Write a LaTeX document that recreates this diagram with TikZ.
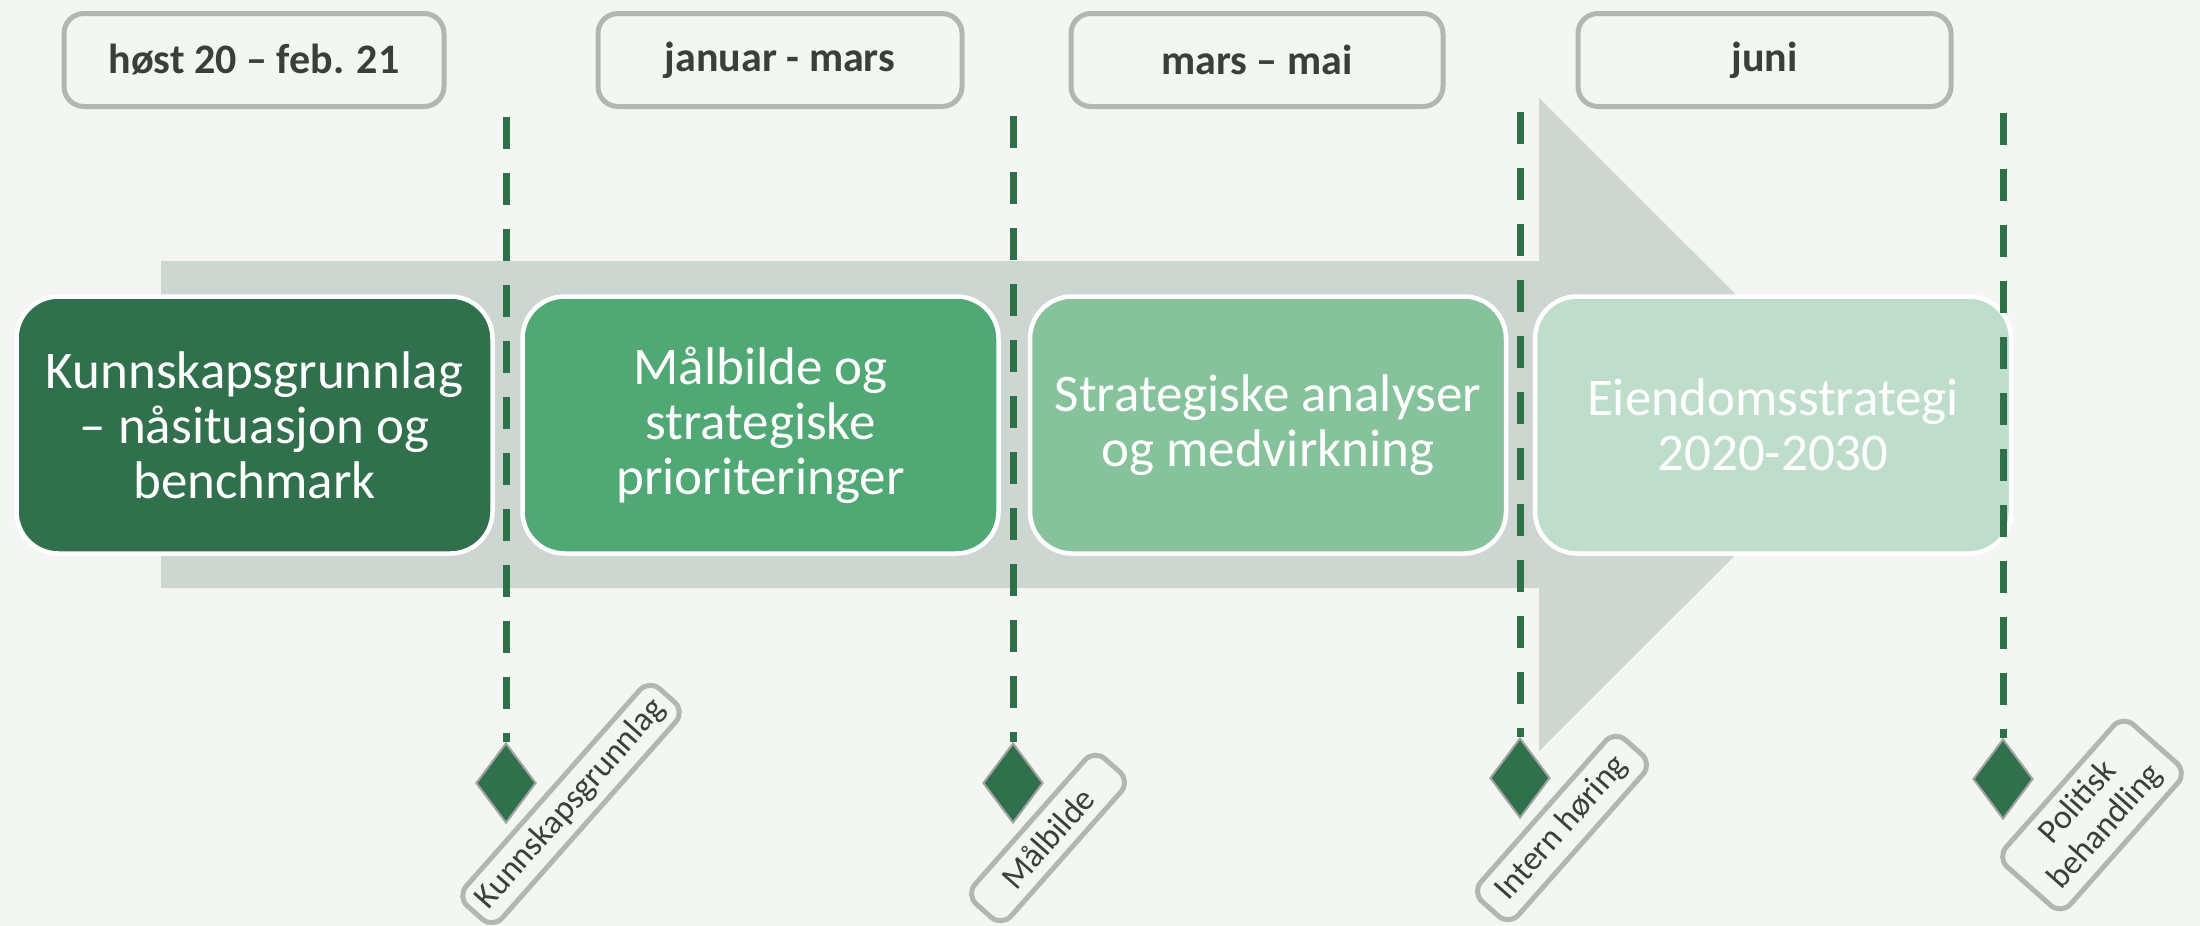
\documentclass[tikz,border=0pt]{standalone}
\usepackage{fontspec}
\setmainfont{Carlito}
\usetikzlibrary{shapes.geometric}
\definecolor{bg}{HTML}{F4F6F3}
\definecolor{arrowgrey}{HTML}{CDD6D1}
\definecolor{gA}{HTML}{31704C}
\definecolor{gB}{HTML}{50A874}
\definecolor{gC}{HTML}{86C39D}
\definecolor{gD}{HTML}{BFDDCB}
\definecolor{dashgreen}{HTML}{2E7048}
\definecolor{boxgrey}{HTML}{B4B6B3}
\definecolor{txtgrey}{HTML}{3C3E3C}
\tikzset{
  periodbox/.style={draw=boxgrey, line width=5pt, fill=bg, rounded corners=20pt,
    minimum height=93pt, inner sep=0pt, text=txtgrey,
    font=\fontsize{42}{46}\selectfont\bfseries},
  phasebox/.style={draw=white, line width=4.5pt, rounded corners=42pt,
    minimum width=476pt, minimum height=257pt, inner sep=0pt, text=white,
    align=center, font=\fontsize{53}{55}\selectfont},
  msline/.style={draw=dashgreen, line width=7pt, dash pattern=on 32pt off 24pt},
  msdiamond/.style={diamond, draw=boxgrey!90!black, line width=2pt, fill=gA,
    minimum width=60pt, minimum height=80pt, inner sep=0pt},
  msbox/.style={draw=boxgrey, line width=5pt, fill=bg, rounded corners=14pt,
    inner sep=0pt, text=txtgrey, align=center, rotate=48.5,
    font=\fontsize{34}{37}\selectfont}
}
\begin{document}
\begin{tikzpicture}[x=1pt,y=-1pt]
\fill[bg] (0,0) rectangle (2200,926);
\useasboundingbox (0,0) rectangle (2200,926);

% big arrow
\fill[arrowgrey] (161,261) -- (1539,261) -- (1539,98) -- (1866,424.5)
  -- (1539,751) -- (1539,588) -- (161,588) -- cycle;

% period boxes
\node[periodbox, minimum width=380pt] (p1) at (254,60) {høst 20 – feb. 21};
\node[periodbox, minimum width=364pt] (p2) at (780,60) {januar - mars};
\node[periodbox, minimum width=372pt] (p3) at (1257,60) {mars – mai};
\node[periodbox, minimum width=373pt] (p4) at (1764.5,60) {juni};

% phase boxes
\node[phasebox, fill=gA] (b1) at (254.5,425) {Kunnskapsgrunnlag\\– nåsituasjon og\\benchmark};
\node[phasebox, fill=gB] (b2) at (760.5,425) {Målbilde og\\strategiske\\prioriteringer};
\node[phasebox, fill=gC] (b3) at (1268,425) {Strategiske analyser\\og medvirkning};
\node[phasebox, fill=gD] (b4) at (1773,425) {Eiendomsstrategi\\2020-2030};

% milestone diamonds
\node[msdiamond] (d1) at (506,783) {};
\node[msdiamond] (d2) at (1013,783) {};
\node[msdiamond] (d3) at (1520,778) {};
\node[msdiamond] (d4) at (2003,779) {};

\coordinate (t1) at (506,117);
\coordinate (t2) at (1013,116);
\coordinate (t3) at (1520,112);
\coordinate (t4) at (2003,113);
\draw[msline] (t1) -- (d1.north);
\draw[msline] (t2) -- (d2.north);
\draw[msline] (t3) -- (d3.north);
\draw[msline] (t4) -- (d4.north);

% milestone labels
\node[msbox, minimum width=290pt, minimum height=48pt] (l1) at (571,804) {Kunnskapsgrunnlag};
\node[msbox, minimum width=194pt, minimum height=48pt] (l2) at (1048,838) {Målbilde};
\node[msbox, minimum width=216pt, minimum height=50pt] (l3) at (1562,828) {Intern høring};
\node[msbox, minimum width=190pt, minimum height=86pt] (l4) at (2092,815) {Politisk\\behandling};
\end{tikzpicture}
\end{document}
